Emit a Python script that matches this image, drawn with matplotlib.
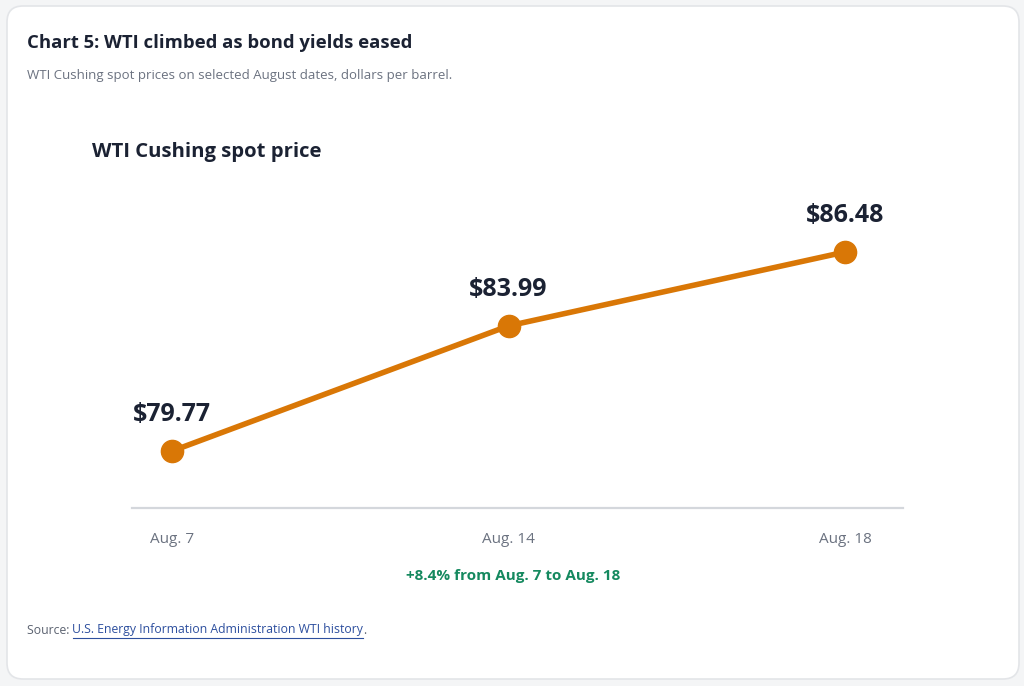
import matplotlib
matplotlib.use('Agg')
import matplotlib.pyplot as plt
from matplotlib.patches import FancyBboxPatch

plt.rcParams['font.family'] = ['Open Sans', 'DejaVu Sans']

dates = ['Aug. 7', 'Aug. 14', 'Aug. 18']
prices = [79.77, 83.99, 86.48]
value_labels = ['$79.77', '$83.99', '$86.48']
change_note = '+8.4% from Aug. 7 to Aug. 18'

ink = '#1b2233'
orange = '#d97706'
grey = '#6b7280'

fig = plt.figure(figsize=(10.24, 6.86), dpi=100)
fig.patch.set_facecolor('#f4f5f6')

# background "card" drawn in pixel coordinates
bg = fig.add_axes([0, 0, 1, 1], zorder=-1)
bg.set_xlim(0, 1024)
bg.set_ylim(686, 0)
bg.axis('off')
card = FancyBboxPatch((7, 6), 1012, 673, boxstyle='round,pad=0,rounding_size=16',
                      facecolor='white', edgecolor='#e3e5e8', linewidth=1.2)
bg.add_patch(card)

bg.text(27, 43, 'Chart 5: WTI climbed as bond yields eased', fontsize=13.3,
        fontweight='bold', color=ink, va='center', ha='left')
bg.text(27, 76, 'WTI Cushing spot prices on selected August dates, dollars per barrel.',
        fontsize=9.5, color='#6b7280', va='center', ha='left')
bg.text(92, 152, 'WTI Cushing spot price', fontsize=14.6, fontweight='bold',
        color=ink, va='center', ha='left')
bg.text(513, 576, change_note, fontsize=11, fontweight='bold', color='#15895f',
        va='center', ha='center')

# source line with a fake hyperlink
fig.canvas.draw()
rend = fig.canvas.get_renderer()
t1 = bg.text(27, 630, 'Source: ', fontsize=8.8, color='#5b6270', va='center', ha='left')
w1 = t1.get_window_extent(rend).width
t2 = bg.text(27 + w1, 630, 'U.S. Energy Information Administration WTI history',
             fontsize=8.8, color='#2d4f9e', va='center', ha='left')
w2 = t2.get_window_extent(rend).width
bg.plot([27 + w1, 27 + w1 + w2], [638, 638], color='#2d4f9e', lw=0.8)
bg.text(27 + w1 + w2, 630, '.', fontsize=8.8, color='#5b6270', va='center', ha='left')

# main plot
ax = fig.add_axes([132 / 1024, 1 - 508 / 686, (903 - 132) / 1024, (508 - 190) / 686])
ax.patch.set_alpha(0)
x = list(range(len(dates)))
ax.plot(x, prices, color=orange, lw=4, marker='o', markersize=16,
        solid_capstyle='round', clip_on=False, zorder=3)
for xi, p, lab in zip(x, prices, value_labels):
    ax.annotate(lab, (xi, p), xytext=(0, 26), textcoords='offset points',
                ha='center', va='center', fontsize=18, fontweight='bold', color=ink)

ax.set_xlim(-0.119, 2.172)
ax.set_ylim(77.85, 88.57)
ax.set_xticks(x)
ax.set_xticklabels(dates, fontsize=11, color=grey)
ax.set_yticks([])
ax.tick_params(axis='x', length=0, pad=17)
for s in ['top', 'right', 'left']:
    ax.spines[s].set_visible(False)
ax.spines['bottom'].set_color('#d4d7dc')
ax.spines['bottom'].set_linewidth(1.6)

fig.savefig('out.png', dpi=100, facecolor=fig.get_facecolor())
